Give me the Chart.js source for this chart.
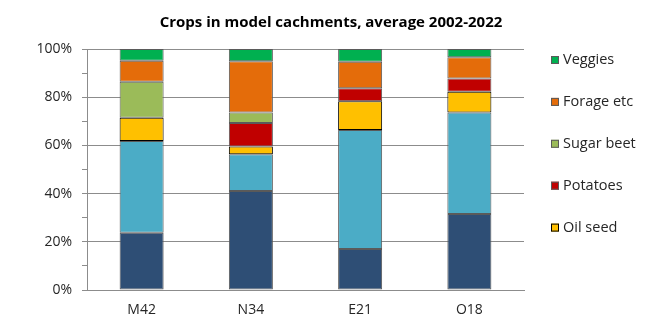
<!DOCTYPE html>
<html>
<head>
<meta charset="utf-8">
<script src="https://cdn.jsdelivr.net/npm/chart.js@4"></script>
<style>
  html, body { margin: 0; padding: 0; background: #fff; }
  #wrap { width: 662px; height: 330px; }
</style>
</head>
<body>
<div id="wrap"><canvas id="cropChart" width="662" height="330"></canvas></div>
<script>
// Catchments and crop shares (%), stacked bottom to top
const catchments = ['M42', 'N34', 'E21', 'O18'];

const cereals   = [23.8, 41.1, 17.0, 31.5];
const grass     = [38.0, 15.2, 49.4, 42.2];
const oilSeed   = [9.7, 3.2, 11.9, 8.6];
const potatoes  = [0.0, 9.8, 5.4, 5.5];
const sugarBeet = [14.9, 4.4, 0.0, 0.0];
const forage    = [8.7, 21.2, 11.0, 8.8];
const veggies   = [4.9, 5.1, 5.3, 3.4];

const yTicks = [0, 20, 40, 60, 80, 100];

const FONT = "'Open Sans', 'Liberation Sans', sans-serif";
const GRID = '#8c8c8c';

// Only these series appear in the legend (top-down)
const legendNames = ['Veggies', 'Forage etc', 'Sugar beet', 'Potatoes', 'Oil seed'];

const sideLegend = {
    id: 'sideLegend',
    afterDraw(chart) {
        const ctx = chart.ctx;
        const area = chart.chartArea;
        const x = area.right + 27;
        const step = 41.9;
        ctx.save();
        ctx.font = '14.5px ' + FONT;
        ctx.textBaseline = 'middle';
        legendNames.forEach((name, i) => {
            const ds = chart.data.datasets.find(d => d.label === name);
            const y = area.top + 11 + i * step;
            ctx.fillStyle = ds.backgroundColor;
            ctx.fillRect(x, y - 4, 8, 8);
            ctx.strokeStyle = ds.borderColor;
            ctx.lineWidth = 1;
            ctx.strokeRect(x + 0.5, y - 3.5, 7, 7);
            ctx.fillStyle = '#262626';
            ctx.fillText(name, x + 12, y);
        });
        ctx.restore();
    }
};

function makeSet(label, data, color, border) {
    return {
        label: label,
        data: data,
        backgroundColor: color,
        borderColor: border || '#5a5a5a',
        borderWidth: 1,
        borderSkipped: false
    };
}

new Chart(document.getElementById('cropChart'), {
    type: 'bar',
    data: {
        labels: catchments,
        datasets: [
            makeSet('Cereals', cereals, '#2e4e75'),
            makeSet('Grass', grass, '#4bacc6'),
            makeSet('Oil seed', oilSeed, '#ffc000', '#000000'),
            makeSet('Potatoes', potatoes, '#c00000'),
            makeSet('Sugar beet', sugarBeet, '#9bbb59'),
            makeSet('Forage etc', forage, '#e46c0a'),
            makeSet('Veggies', veggies, '#00b050')
        ]
    },
    options: {
        responsive: false,
        animation: false,
        datasets: {
            bar: { categoryPercentage: 1, barPercentage: 0.403 }
        },
        plugins: {
            legend: { display: false },
            tooltip: { enabled: false },
            title: {
                display: true,
                text: 'Crops in model cachments, average 2002-2022',
                color: '#000',
                font: { family: FONT, size: 15, weight: 'bold' },
                padding: { top: 14, bottom: 17 }
            }
        },
        scales: {
            x: {
                stacked: true,
                grid: { display: false, drawTicks: false },
                border: { display: true, color: GRID, width: 1 },
                ticks: { color: '#262626', padding: 12, font: { family: FONT, size: 14 } },
                afterFit(scale) { scale.height = 40; }
            },
            y: {
                stacked: true,
                min: 0,
                max: 100,
                grid: {
                    color: c => (c.tick && c.tick.value % 20 === 0 && c.tick.value > 0) ? GRID : 'rgba(0,0,0,0)',
                    tickColor: GRID,
                    tickLength: 5,
                    drawTicks: true
                },
                border: { display: true, color: GRID, width: 1 },
                ticks: {
                    stepSize: 10,
                    padding: 10,
                    color: '#262626',
                    font: { family: FONT, size: 14 },
                    callback: v => yTicks.includes(v) ? v + '%' : ''
                },
                afterFit(scale) { scale.width = 87; }
            },
            // empty axis on the right keeps room for the legend
            legendSpace: {
                type: 'linear',
                position: 'right',
                grid: { display: false },
                border: { display: false },
                ticks: { display: false },
                afterFit(scale) { scale.width = 138; }
            }
        }
    },
    plugins: [sideLegend]
});
</script>
</body>
</html>
